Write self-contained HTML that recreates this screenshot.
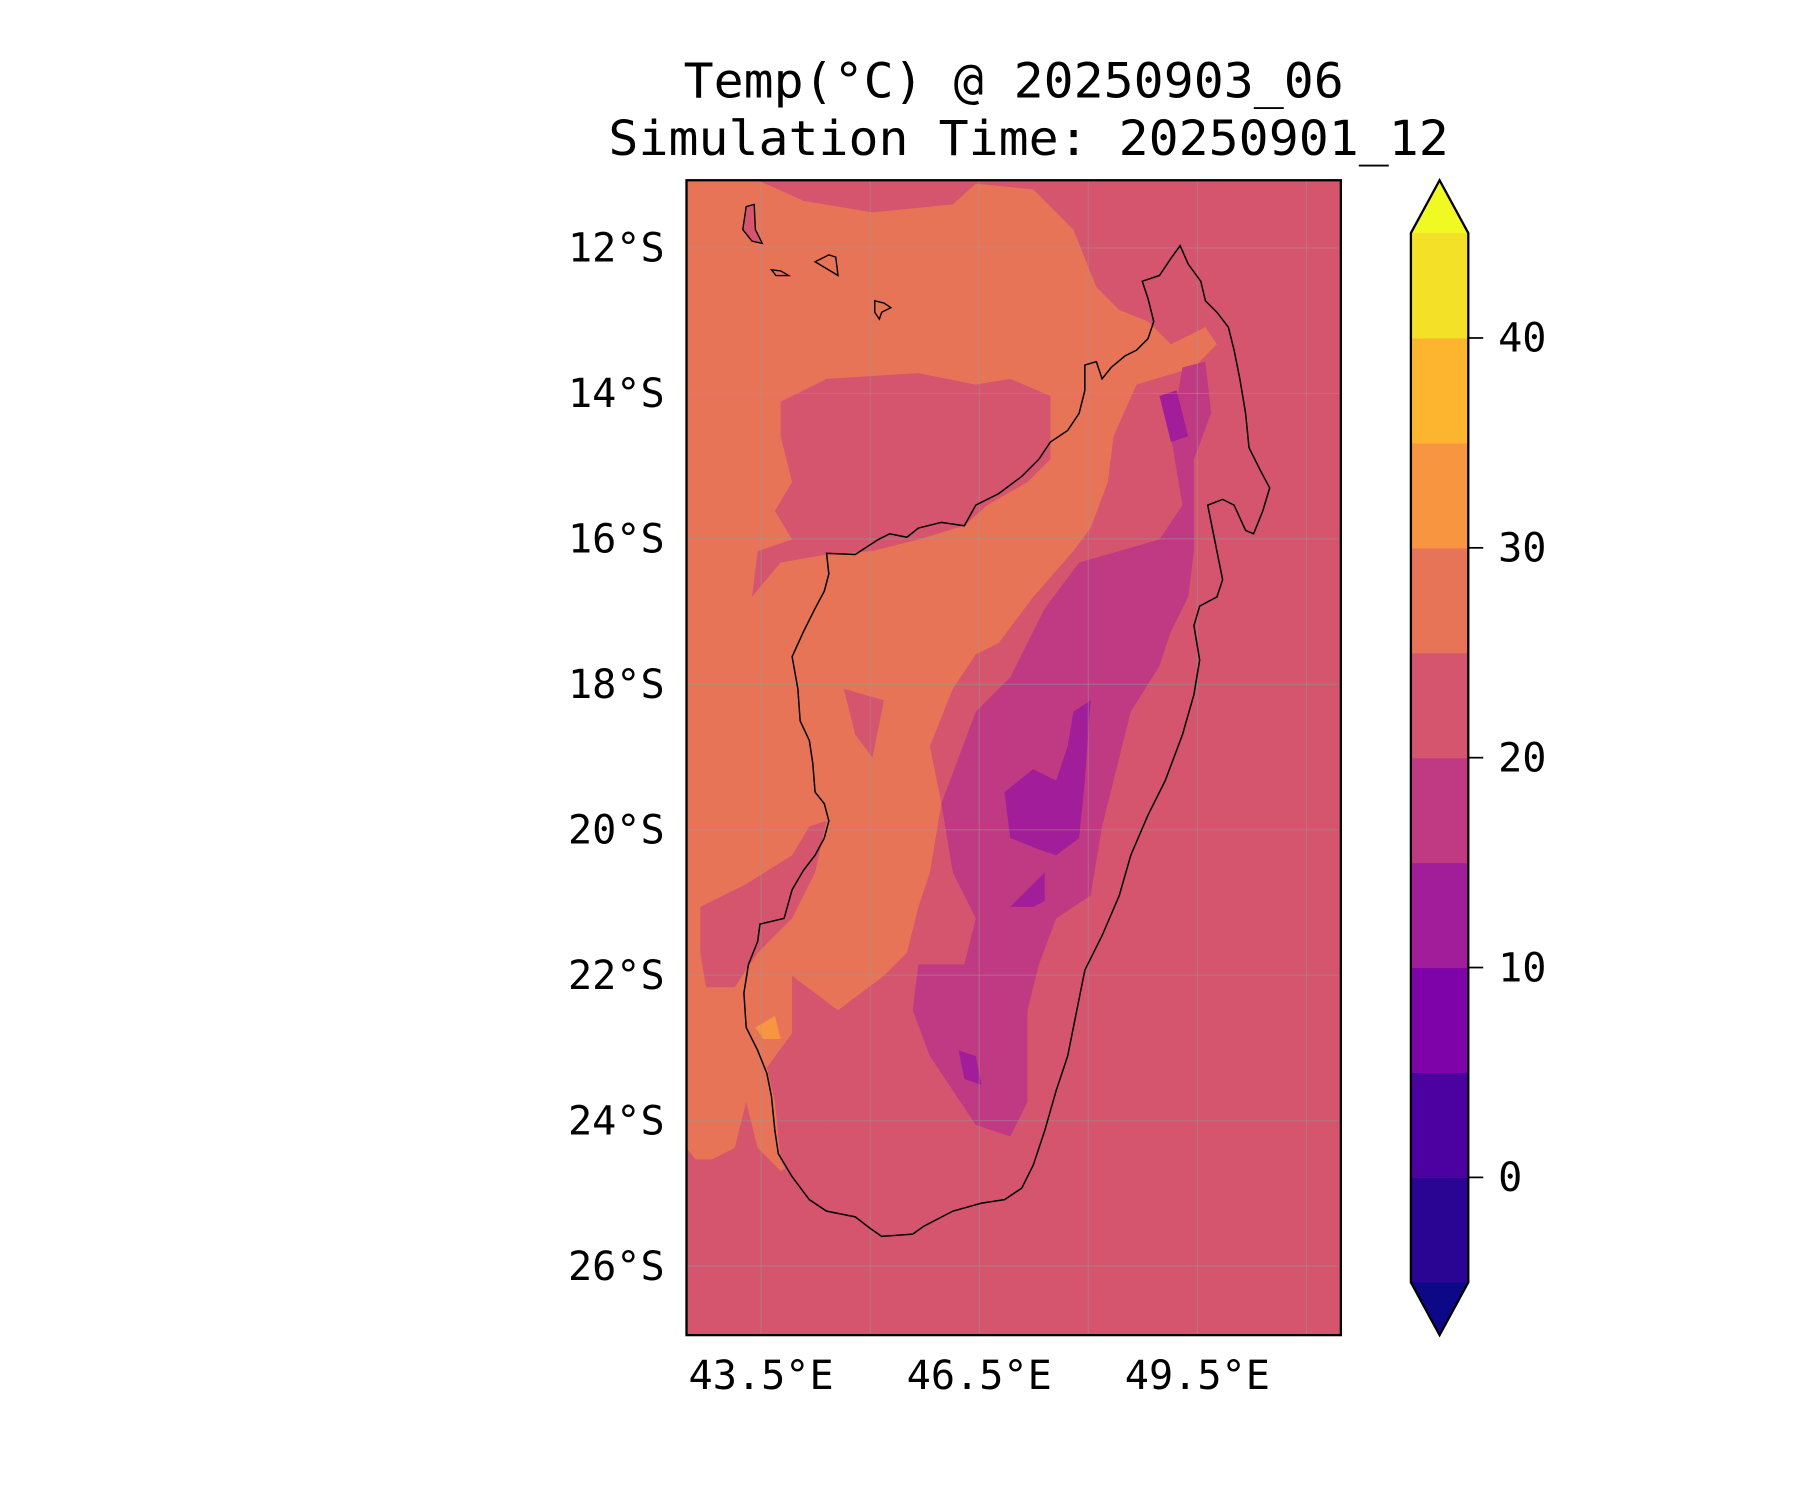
<!DOCTYPE html>
<html><head><meta charset="utf-8"><style>
html,body{margin:0;padding:0;background:#fff;}
svg{display:block;}
text{font-family:"DejaVu Sans Mono","Liberation Mono",monospace;fill:#000;}
</style></head><body>
<svg id="chart" width="1800" height="1500" viewBox="0 0 1800 1500" xmlns="http://www.w3.org/2000/svg">
<g transform="scale(1.148)" id="root">
  <text x="883" y="85" font-size="42" text-anchor="middle" textLength="575" lengthAdjust="spacingAndGlyphs">Temp(°C) @ 20250903_06</text>
  <text x="896" y="135" font-size="42" text-anchor="middle" textLength="732" lengthAdjust="spacingAndGlyphs">Simulation Time: 20250901_12</text>
  <defs><clipPath id="pc"><rect x="598" y="157" width="570" height="1006"/></clipPath></defs>
  <g clip-path="url(#pc)">
    <rect x="598" y="157" width="570" height="1006" fill="#d5546e"/>
    <polygon fill="#e87458" points="598,157 660,157 700,175 760,185 830,178 850,160 900,165 935,200 955,250 975,270 1000,280 1020,300 1050,285 1060,300 1040,320 990,335 970,380 965,420 950,460 935,480 900,520 870,560 850,570 830,600 810,650 820,700 810,760 800,790 790,830 770,850 730,880 720,930 725,960 710,980 700,1010 680,1020 660,1000 650,960 640,1000 620,1010 606,1010 598,1000"/>
    <polygon fill="#d5546e" points="680,350 720,330 800,325 850,335 880,330 915,345 915,400 895,420 860,440 840,458 800,470 760,480 720,483 680,490 655,520 660,480 690,470 675,445 690,420 680,380"/>
    <polygon fill="#d5546e" points="610,790 650,770 690,745 705,720 720,715 710,760 690,800 660,830 640,860 615,860 610,830"/>
    <polygon fill="#d5546e" points="690,850 730,880 760,860 790,840 800,880 795,930 760,960 740,950 720,980 715,1010 730,1060 700,1050 680,1010 675,960 668,930 690,900"/>
    <polygon fill="#d5546e" points="735,600 770,610 760,660 745,640"/>
    <polygon fill="#c03a83" points="940,490 975,480 1010,470 1030,440 1020,380 1030,320 1050,315 1055,360 1040,400 1040,480 1035,520 1020,550 1010,580 985,620 970,680 960,720 950,780 920,800 905,840 895,880 895,960 880,990 850,980 830,950 810,920 795,880 800,840 840,840 850,800 830,760 820,700 850,620 880,590 910,530"/>
    <polygon fill="#a21d9a" points="935,620 950,610 945,680 940,730 920,745 905,740 880,730 875,690 900,670 920,680 930,650"/>
    <polygon fill="#a21d9a" points="880,790 910,760 910,785 900,790"/>
    <polygon fill="#a21d9a" points="1010,345 1025,340 1035,380 1020,385"/>
    <polygon fill="#a21d9a" points="835,915 850,920 855,945 840,940"/>
    <polygon fill="#f89540" points="658,895 675,885 680,905 665,905"/>
    <g id="grid"></g>
    <polygon fill="none" stroke="#000" stroke-width="1.3" points="1028,214 1035,230 1046,245 1050,262 1060,272 1070,285 1075,305 1080,330 1085,360 1088,390 1098,410 1106,425 1100,445 1092,465 1085,462 1075,440 1065,435 1052,440 1058,470 1062,490 1065,505 1060,520 1045,528 1040,545 1045,575 1040,605 1030,640 1015,680 1000,710 985,745 975,780 960,815 945,845 938,880 930,920 920,950 910,985 900,1015 890,1035 875,1045 855,1048 830,1055 805,1068 795,1075 768,1077 758,1070 745,1060 720,1055 705,1045 690,1025 678,1005 675,985 672,955 668,935 660,915 650,895 648,865 652,840 660,820 662,805 683,800 690,775 700,758 710,745 718,730 722,715 718,700 710,690 708,665 705,645 697,628 695,600 690,572 700,550 710,530 718,515 722,500 720,482 745,483 765,470 775,465 790,468 800,460 820,455 840,458 850,440 870,430 890,415 905,400 915,385 930,375 940,360 945,340 945,318 955,315 960,330 968,320 980,310 990,305 1000,295 1005,280 1000,260 995,245 1010,240 1020,225"/>
    <polygon fill="#d5546e" stroke="#000" stroke-width="1.2" points="650,180 657,178 658,200 664,212 655,210 647,200"/>
    <polygon fill="none" stroke="#000" stroke-width="1.2" points="672,235 680,236 687,240 676,240"/>
    <polygon fill="none" stroke="#000" stroke-width="1.2" points="710,228 722,222 728,224 730,240 720,234"/>
    <polygon fill="none" stroke="#000" stroke-width="1.2" points="762,262 770,264 776,268 768,272 766,278 762,272"/>
  </g>
  <rect x="598" y="157" width="570" height="1006" fill="none" stroke="#000" stroke-width="2"/>
  <g id="ylabels"></g>
  <g id="xlabels"></g>
  <g id="cbar"></g>
</g>
</svg>
<script>
const latTicks = [12, 14, 16, 18, 20, 22, 24, 26];
const lonTicks = [43.5, 46.5, 49.5];
const lonGrid = [43.5, 45, 46.5, 48, 49.5, 51];
const cbarLevels = [-5, 0, 5, 10, 15, 20, 25, 30, 35, 40, 45];
const cbarColors = ["#2a0593", "#4c02a1", "#7e03a8", "#a21d9a", "#c03a83", "#d5546e", "#e87458", "#f89540", "#fdb42f", "#f2e127"];
const cbarTicks = [0, 10, 20, 30, 40];

const NS = "http://www.w3.org/2000/svg";
function lonX(lon){ return 663 + (lon - 43.5) / 1.5 * 95; }
function latY(lat){ return 216 + (lat - 12) / 2 * 126.7; }
function cbY(v){ return 1117 - (v + 5) / 50 * 914; }
function mk(tag, attrs, parent){ const e = document.createElementNS(NS, tag); for (const k in attrs) e.setAttribute(k, attrs[k]); parent.appendChild(e); return e; }

const grid = document.getElementById('grid');
lonGrid.forEach(l => {
  const ln = mk('line', {x1: lonX(l), x2: lonX(l), y1: 157, y2: 1163, stroke: '#999', 'stroke-opacity': 0.45, 'stroke-width': 1}, grid);
  
  
});
latTicks.forEach(l => {
  const ln = mk('line', {x1: 598, x2: 1168, y1: latY(l), y2: latY(l), stroke: '#999', 'stroke-opacity': 0.45, 'stroke-width': 1}, grid);
  
  
});
const yl = document.getElementById('ylabels');
latTicks.forEach(l => {
  const t = mk('text', {x: 579, y: latY(l) + 12, 'font-size': 35, 'text-anchor': 'end'}, yl);
  t.textContent = l + '°S';
  
  
});
const xl = document.getElementById('xlabels');
lonTicks.forEach(l => {
  const t = mk('text', {x: lonX(l), y: 1210, 'font-size': 35, 'text-anchor': 'middle'}, xl);
  t.textContent = l + '°E';
  
  
});
const cb = document.getElementById('cbar');
for (let i = 0; i < cbarColors.length; i++) {
  const y0 = cbY(cbarLevels[i+1]), y1 = cbY(cbarLevels[i]);
  const r = mk('rect', {x: 1229, y: y0, width: 50, height: y1 - y0 + 0.5, fill: cbarColors[i]}, cb);
  
  
}
const triTop = mk('polygon', {points: '1229,203 1254,157 1279,203', fill: '#f0f921'}, cb);


const triBot = mk('polygon', {points: '1229,1117 1254,1163 1279,1117', fill: '#0d0887'}, cb);


const outline = mk('polygon', {points: '1229,203 1254,157 1279,203 1279,1117 1254,1163 1229,1117', fill: 'none', stroke: '#000', 'stroke-width': 2}, cb);


cbarTicks.forEach(v => {
  const tk = mk('line', {x1: 1279, x2: 1292, y1: cbY(v), y2: cbY(v), stroke: '#000', 'stroke-width': 1.5}, cb);
  
  
  const t = mk('text', {x: 1305, y: cbY(v) + 12, 'font-size': 35}, cb);
  t.textContent = v;
  
  
});
</script>
</body></html>
